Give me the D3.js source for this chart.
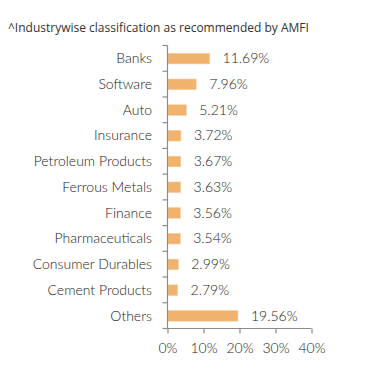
<!DOCTYPE html>
<html><head><meta charset="utf-8">
<script src="https://cdn.jsdelivr.net/npm/d3@7"></script>
<style>
html,body{margin:0;padding:0;background:#fff;}
svg{display:block;}
</style></head>
<body>
<svg id="c" width="391" height="382"></svg>
<script>
const title = "^Industrywise classification as recommended by AMFI";
const categories = ["Banks","Software","Auto","Insurance","Petroleum Products","Ferrous Metals","Finance","Pharmaceuticals","Consumer Durables","Cement Products","Others"];
const values = [11.69,7.96,5.21,3.72,3.67,3.63,3.56,3.54,2.99,2.79,19.56];
const xTicks = [0,10,20,30,40];

const svg = d3.select("#c");
const font = "Lato, 'Open Sans', sans-serif";
const x = d3.scaleLinear().domain([0,40]).range([167.5,311.5]);
const y = d3.scaleBand().domain(categories).range([45.5,328.5]);
const axisColor = "#8c8c8c";

svg.append("text").attr("x",8).attr("y",32)
  .attr("font-family","'Open Sans', sans-serif").attr("font-size",12).attr("fill","#333")
  .text(title);

// bars
svg.selectAll("rect.bar").data(categories).join("rect")
  .attr("class","bar")
  .attr("x", x(0)+0.5)
  .attr("y", d => y(d)+y.bandwidth()/2-5)
  .attr("width", (d,i) => x(values[i])-x(0)-0.5)
  .attr("height", 10.5)
  .attr("fill","#f0b26c")
  .attr("stroke","#f5c893").attr("stroke-width",0.6);

// value labels
svg.selectAll("text.val").data(categories).join("text")
  .attr("class","val")
  .attr("x",(d,i)=>x(values[i])+13)
  .attr("y",d=>y(d)+y.bandwidth()/2)
  .attr("dy","0.35em")
  .attr("font-family",font).attr("font-weight",300).attr("font-size",14).attr("fill","#222")
  .text((d,i)=>values[i].toFixed(2)+"%");

// y axis
const yAxisG = svg.append("g");
yAxisG.append("line").attr("x1",x(0)).attr("x2",x(0)).attr("y1",y.range()[0]).attr("y2",y.range()[1])
  .attr("stroke",axisColor).attr("stroke-width",1.2);
const bounds = categories.map(c=>y(c)).concat([y.range()[1]]);
yAxisG.selectAll("line.t").data(bounds).join("line").attr("class","t")
  .attr("x1",x(0)-5).attr("x2",x(0)).attr("y1",d=>d).attr("y2",d=>d)
  .attr("stroke",axisColor).attr("stroke-width",1.2);
yAxisG.selectAll("text").data(categories).join("text")
  .attr("x",x(0)-15.5).attr("y",d=>y(d)+y.bandwidth()/2).attr("dy","0.35em")
  .attr("text-anchor","end")
  .attr("font-family",font).attr("font-weight",300).attr("font-size",14).attr("fill","#222")
  .text(d=>d);

// x axis
const xAxis = d3.axisBottom(x).tickValues(xTicks).tickFormat(d=>d+"%").tickSize(5).tickPadding(10);
const xg = svg.append("g").attr("transform",`translate(0,${y.range()[1]})`).call(xAxis);
xg.select(".domain").attr("stroke",axisColor).attr("stroke-width",1.2).attr("d",`M${x(0)},0H${x(40)}`);
xg.selectAll(".tick line").attr("stroke",axisColor).attr("stroke-width",1.2);
xg.selectAll(".tick text").attr("font-family",font).attr("font-weight",300).attr("font-size",14).attr("fill","#222");
</script>
</body></html>
